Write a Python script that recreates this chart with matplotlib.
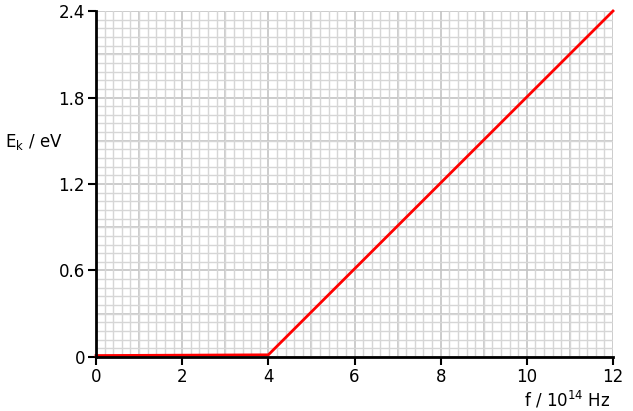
import matplotlib
matplotlib.use('Agg')
import matplotlib.pyplot as plt
import numpy as np
from matplotlib.pyplot import MultipleLocator

# frequency (10^14 Hz) and kinetic energy (eV)
freq = [0, 4, 12]
ek = [0.01, 0.015, 2.4]

x_ticks = [0, 2, 4, 6, 8, 10, 12]
y_ticks = [0, 0.6, 1.2, 1.8, 2.4]
y_labels = ['0', '0.6', '1.2', '1.8', '2.4']

fig = plt.figure(figsize=(6.33, 4.11), dpi=100)
ax = fig.add_axes([0.1517, 0.1314, 0.8167, 0.8418])

ax.set_xlim(0, 12)
ax.set_ylim(0, 2.4)

# graph paper grid
ax.xaxis.set_minor_locator(MultipleLocator(0.2))
ax.yaxis.set_minor_locator(MultipleLocator(0.06))
ax.grid(which='minor', color='#d6d6d6', linewidth=1.0)
for v in np.arange(0, 12.01, 1):
    ax.axvline(v, color='#c4c4c4', linewidth=1.2, zorder=0.5)
for v in np.arange(0, 2.41, 0.3):
    ax.axhline(v, color='#c4c4c4', linewidth=1.2, zorder=0.5)
ax.set_axisbelow(True)

ax.plot(freq, ek, color='#ff0000', linewidth=2, zorder=3, clip_on=False)

ax.set_xticks(x_ticks)
ax.set_yticks(y_ticks)
ax.set_yticklabels(y_labels)
ax.tick_params(which='minor', length=0)
ax.tick_params(which='major', length=6, width=1.5, labelsize=12, color='black', pad=2)

for s in ['top', 'right']:
    ax.spines[s].set_visible(False)
for s in ['left', 'bottom']:
    ax.spines[s].set_linewidth(2)
    ax.spines[s].set_zorder(4)

fig.text(0.008, 0.655, r'E$_\mathregular{k}$ / eV', fontsize=12, ha='left', va='center')
fig.text(0.965, 0.028, r'f / 10$^\mathregular{14}$ Hz', fontsize=12, ha='right', va='center')

fig.savefig('out.png', dpi=100)
